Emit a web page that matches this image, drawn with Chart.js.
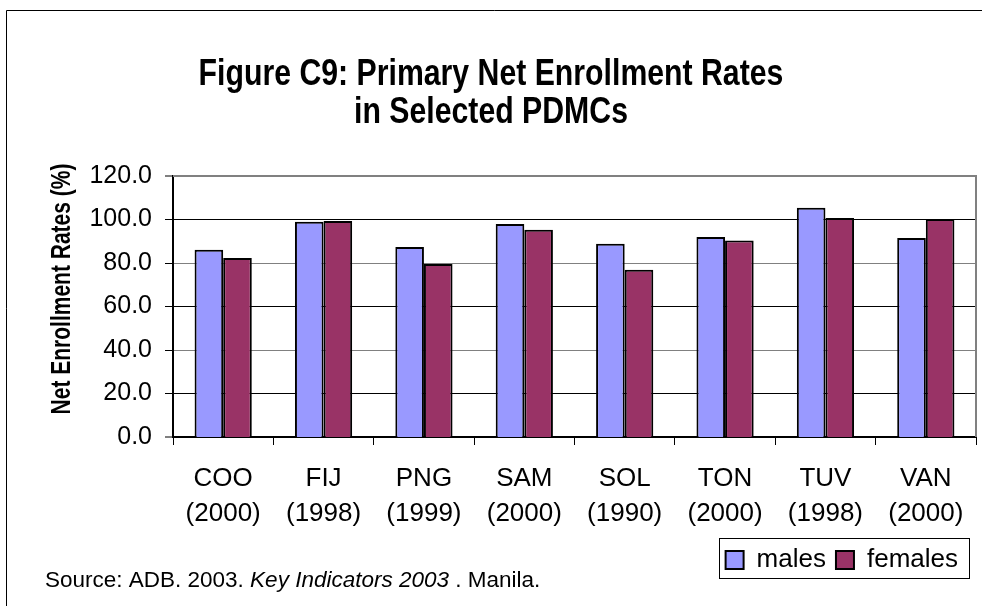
<!DOCTYPE html>
<html>
<head>
<meta charset="utf-8">
<script src="https://cdn.jsdelivr.net/npm/chart.js@4/dist/chart.umd.min.js"></script>
<style>
  html, body { margin: 0; padding: 0; background: #fff; }
  #wrap { width: 982px; height: 606px; position: relative; }
</style>
</head>
<body>
<div id="wrap"><canvas id="c" width="982" height="606"></canvas></div>
<script>
const countries = ['COO', 'FIJ', 'PNG', 'SAM', 'SOL', 'TON', 'TUV', 'VAN'];
const years = ['(2000)', '(1998)', '(1999)', '(2000)', '(1990)', '(2000)', '(1998)', '(2000)'];
const males = [86.1, 99.0, 87.4, 97.9, 88.9, 92.0, 105.4, 91.5];
const females = [82.3, 99.3, 79.5, 95.3, 76.9, 90.3, 100.7, 100.2];
const yTicks = [0, 20, 40, 60, 80, 100, 120];
const titleLines = ['Figure C9: Primary Net Enrollment Rates', 'in Selected PDMCs'];
const yTitle = 'Net Enrollment Rates (%)';
const sourceParts = [
  { text: 'Source: ADB. 2003. ', italic: false },
  { text: 'Key Indicators 2003', italic: true },
  { text: ' . Manila.', italic: false }
];

const FONT = "'Liberation Sans', Arial, Helvetica, sans-serif";
const labels = countries.map((c, i) => [c, years[i]]);

const framePlugin = {
  id: 'frame',
  beforeDraw(chart) {
    const ctx = chart.ctx;
    ctx.save();
    ctx.fillStyle = '#fff';
    ctx.fillRect(0, 0, chart.width, chart.height);
    ctx.strokeStyle = '#000';
    ctx.lineWidth = 1;
    ctx.beginPath();
    ctx.moveTo(6.5, chart.height);
    ctx.lineTo(6.5, 10.5);
    ctx.lineTo(chart.width, 10.5);
    ctx.stroke();
    ctx.restore();
  },
  afterLayout(chart) {
    const lg = chart.legend;
    if (lg) { lg.left -= 8; lg.right -= 8; }
  },
  beforeDatasetsDraw(chart) {
    const a = chart.chartArea;
    const ctx = chart.ctx;
    ctx.save();
    ctx.strokeStyle = '#808080';
    ctx.lineWidth = 2;
    ctx.beginPath();
    ctx.moveTo(a.left, a.top);
    ctx.lineTo(a.right, a.top);
    ctx.lineTo(a.right, a.bottom);
    ctx.stroke();
    ctx.restore();
  },
  afterDraw(chart) {
    const ctx = chart.ctx;
    const a = chart.chartArea;
    // title (slightly condensed, as in the original)
    ctx.save();
    ctx.fillStyle = '#000';
    ctx.textAlign = 'center';
    ctx.textBaseline = 'middle';
    ctx.font = 'bold 36px ' + FONT;
    titleLines.forEach((line, i) => {
      ctx.save();
      ctx.translate(chart.width / 2, 75 + i * 38);
      ctx.scale(0.84, 1);
      ctx.fillText(line, 0, 0);
      ctx.restore();
    });
    // y-axis title
    ctx.save();
    ctx.translate(62, a.top + 113);
    ctx.rotate(-Math.PI / 2);
    ctx.scale(0.75, 1);
    ctx.font = 'bold 28px ' + FONT;
    ctx.fillText(yTitle, 0, 0);
    ctx.restore();
    ctx.restore();

    ctx.save();
    const lg = chart.legend;
    if (lg && lg.legendHitBoxes && lg.legendHitBoxes.length) {
      const hb = lg.legendHitBoxes;
      const l = Math.min(...hb.map(h => h.left)) - 7;
      const r = Math.max(...hb.map(h => h.left + h.width)) + 11;
      const t = Math.min(...hb.map(h => h.top)) - 9;
      const b = Math.max(...hb.map(h => h.top + h.height)) + 5;
      ctx.strokeStyle = '#000';
      ctx.lineWidth = 1;
      ctx.strokeRect(Math.round(l) + 0.5, Math.round(t) + 0.5, Math.round(r - l), Math.round(b - t));
    }
    let x = 45;
    const y = 581;
    ctx.fillStyle = '#000';
    ctx.textBaseline = 'middle';
    ctx.textAlign = 'left';
    sourceParts.forEach(p => {
      ctx.font = (p.italic ? 'italic ' : '') + '22.5px ' + FONT;
      ctx.fillText(p.text, x, y);
      x += ctx.measureText(p.text).width;
    });
    ctx.restore();
  }
};

new Chart(document.getElementById('c'), {
  type: 'bar',
  data: {
    labels: labels,
    datasets: [
      { label: 'males', data: males, backgroundColor: '#9999FF', borderColor: '#000', borderWidth: 2 },
      { label: 'females', data: females, backgroundColor: '#993366', borderColor: '#000', borderWidth: 2 }
    ]
  },
  options: {
    responsive: false,
    animation: false,
    devicePixelRatio: 1,
    layout: { padding: { left: 6, right: 6, top: 176, bottom: 23 } },
    datasets: { bar: { categoryPercentage: 0.57, barPercentage: 1.0 } },
    plugins: {
      title: { display: false },
      legend: {
        display: true,
        position: 'bottom',
        align: 'end',
        labels: {
          color: '#000',
          font: { family: FONT, size: 26 },
          boxWidth: 18,
          boxHeight: 18,
          padding: 10
        }
      },
      tooltip: { enabled: false }
    },
    scales: {
      x: {
        grid: {
          offset: true,
          drawOnChartArea: false,
          drawTicks: true,
          tickLength: 8,
          tickColor: '#000',
          tickWidth: 1
        },
        border: { display: true, color: '#000', width: 2 },
        ticks: {
          color: '#000',
          font: { family: FONT, size: 26, lineHeight: 1.35 },
          padding: 16,
          maxRotation: 0,
          autoSkip: false
        },
        afterFit(scale) { scale.height = 100; }
      },
      y: {
        min: 0,
        max: 120,
        afterBuildTicks(scale) { scale.ticks = yTicks.map(v => ({ value: v })); },
        grid: {
          color: (c) => (c.index % 2 === 1 ? '#000' : '#808080'),
          lineWidth: (c) => (c.index === 0 || c.index === yTicks.length - 1 ? 0 : 1),
          drawTicks: true,
          tickLength: 8,
          tickColor: '#000',
          tickWidth: 1
        },
        border: { display: true, color: '#000', width: 2 },
        ticks: {
          color: '#000',
          font: { family: FONT, size: 25 },
          padding: 13,
          callback: (v) => Number(v).toFixed(1)
        },
        title: { display: false },
        afterFit(scale) { scale.width = 167; }
      }
    }
  },
  plugins: [framePlugin]
});
</script>
</body>
</html>
